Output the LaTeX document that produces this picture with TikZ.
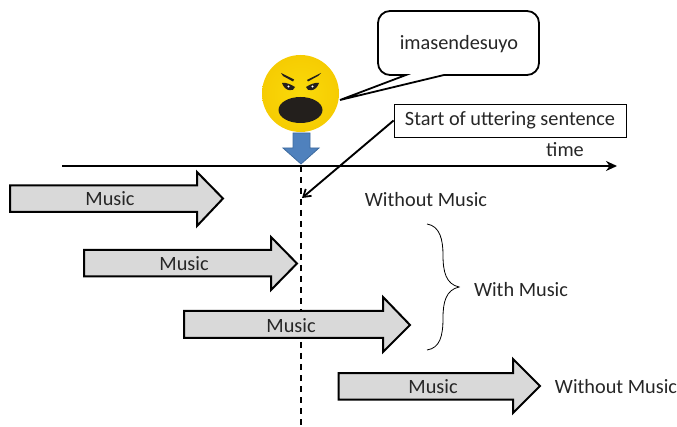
\documentclass[tikz,border=0pt]{standalone}
\usepackage{fontspec}
\setmainfont{Carlito}
\usetikzlibrary{arrows.meta}
\definecolor{inkc}{HTML}{262626}
\definecolor{barfill}{HTML}{D9D9D9}
\definecolor{faceY}{HTML}{FADA0A}
\definecolor{faceO}{HTML}{F6CC02}
\definecolor{faceD}{HTML}{231F1C}
\definecolor{blueA}{HTML}{4F81BD}
\definecolor{blueB}{HTML}{3F6C9F}
\tikzset{
  x=1pt,y=-1pt,
  lbl/.style={font=\fontsize{20.3}{22}\selectfont,text=inkc,inner sep=0pt},
  bar/.style={draw=black,line width=2pt,fill=barfill,line join=miter},
  conn/.style={draw=black,line width=1.9pt,-{Straight Barb[length=7pt,width=9pt,line width=1.8pt]}}
}
\begin{document}
\begin{tikzpicture}
\useasboundingbox (0,0) rectangle (677,427);
% coordinates
\coordinate (dashTop) at (301,166);
\coordinate (dashBot) at (301,427);
\coordinate (tlS) at (62,166);
\coordinate (tlE) at (617,166);
\coordinate (hit) at (302,198);
\coordinate (mouthTail) at (340,100);
% dashed line
\draw[line width=1.6pt,dash pattern=on 6pt off 5pt] (dashTop) -- (dashBot);
% music arrows
\draw[bar] (10,185.5) -- (197,185.5) -- (197,172) -- (223,198.5) -- (197,226) -- (197,212) -- (10,212) -- cycle;
\node[lbl] (m1) at (110,199) {Music};
\draw[bar] (84,250) -- (271,250) -- (271,237) -- (297,263.5) -- (271,290) -- (271,276.5) -- (84,276.5) -- cycle;
\node[lbl] (m2) at (184,264) {Music};
\draw[bar] (184,311) -- (383,311) -- (383,297) -- (410,325) -- (383,352) -- (383,338) -- (184,338) -- cycle;
\node[lbl] (m3) at (291,325.5) {Music};
\draw[bar] (338.5,373) -- (513,373) -- (513,359) -- (540,386) -- (513,413) -- (513,399.5) -- (338.5,399.5) -- cycle;
\node[lbl] (m4) at (433,386.5) {Music};
% face
\shade[inner color=faceY,outer color=faceO] (300.5,93.5) circle (38.5);
\fill[faceD] (300.5,110) ellipse [x radius=22,y radius=13];
\fill[faceD] (281,73) -- (294,79.5) -- (293,81.5) -- (283,76) -- cycle;
\fill[faceD] (321,73) -- (307,80) -- (308,81.5) -- (318,76) -- cycle;
\fill[faceD] (282,83) .. controls (286,82) and (292,85) .. (295,87) .. controls (294,92) and (285,92) .. (282,83) -- cycle;
\fill[faceD] (319,83) .. controls (315,82) and (309,85) .. (306,87) .. controls (307,92) and (316,92) .. (319,83) -- cycle;
\fill[white] (288.5,86.5) circle (1.2);
\fill[white] (312.5,86.5) circle (1.2);
% blue arrow
\draw[blueB,fill=blueA,line width=0.8pt,line join=miter] (293,133) -- (310,133) -- (310,148) -- (319,148) -- (301,164) -- (283,148) -- (293,148) -- cycle;
% timeline
\draw[line width=2.3pt,-{Stealth[length=11pt,width=10pt]}] (tlS) -- (tlE);
\node[lbl] (tm) at (565,149.5) {time};
% callout
\draw[line width=1.8pt,fill=white,line join=miter]
  (406,75) -- (390,75) arc[start angle=90,end angle=180,radius=12]
  -- (378,23) arc[start angle=180,end angle=270,radius=12]
  -- (527,11) arc[start angle=270,end angle=360,radius=12]
  -- (539,63) arc[start angle=0,end angle=90,radius=12]
  -- (444,75) -- (mouthTail) -- cycle;
\node[lbl] (say) at (459,44.5) {imasendesuyo};
% label box
\node[draw=black,line width=0.8pt,fill=white,minimum width=232pt,minimum height=33pt,inner sep=0pt,lbl] (start) at (510,120.5) {Start of uttering sentence\hspace{4pt}};
\draw[conn] (start.west) -- (hit);
% side labels
\node[lbl] (wo1) at (426,199.5) {Without Music};
\node[lbl] (wm) at (521,289.5) {With Music};
\node[lbl] (wo2) at (616,386.5) {Without Music};
% brace
\draw[line width=0.8pt,black] (427,224) .. controls (440,226) and (443,240) .. (443,255)
  .. controls (443,272) and (446,284) .. (459,287)
  .. controls (446,290) and (443,302) .. (443,318)
  .. controls (443,336) and (440,348) .. (427,350);
\end{tikzpicture}
\end{document}
